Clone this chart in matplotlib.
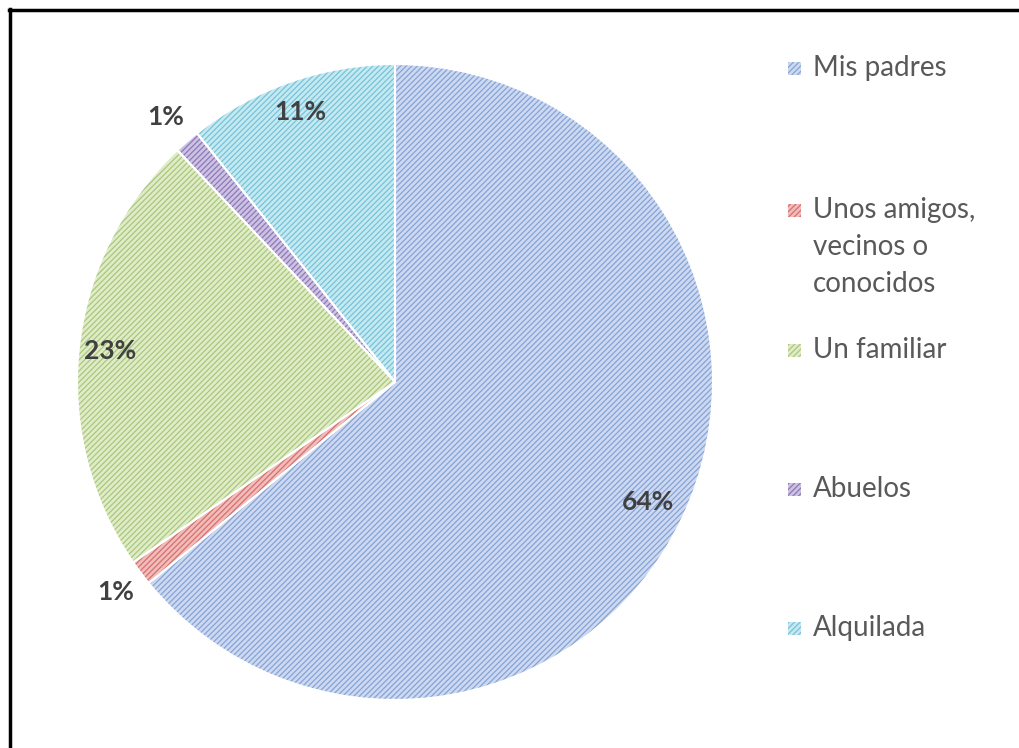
import numpy as np
import matplotlib
matplotlib.use("Agg")
import matplotlib.pyplot as plt
from matplotlib.patches import Rectangle
from matplotlib.lines import Line2D

# data
labels = ["Mis padres", "Unos amigos,\nvecinos o\nconocidos", "Un familiar", "Abuelos", "Alquilada"]
values = [64.1, 1.3, 22.6, 1.3, 10.7]
pct_text = ["64%", "1%", "23%", "1%", "11%"]

faces = ["#cdd9f0", "#f0bdbb", "#e0ebc8", "#cdc2e2", "#c6e9f1"]
hatches = ["#86a3d6", "#d6706e", "#a9c87c", "#8c78ba", "#74c4d9"]
label_r = [0.88, 1.1, 0.9, 1.1, 0.9]

plt.rcParams["font.family"] = ["Lato", "DejaVu Sans"]
plt.rcParams["hatch.linewidth"] = 0.9

W, H = 1020, 748
fig = plt.figure(figsize=(W / 100, H / 100), dpi=100)

cx, cy, R = 395, 382, 318
ax = fig.add_axes([(cx - R) / W, (H - cy - R) / H, 2 * R / W, 2 * R / H])

wedges, _ = ax.pie(values, startangle=90, counterclock=False, radius=1,
                   colors=faces, wedgeprops=dict(linewidth=0))
for w, hc in zip(wedges, hatches):
    w.set_edgecolor(hc)
    w.set_hatch("//////")
    w.set_linewidth(0)

# white separators on top
ax.pie(values, startangle=90, counterclock=False, radius=1,
       wedgeprops=dict(fill=False, edgecolor="white", linewidth=1.5))

for w, txt, r in zip(wedges, pct_text, label_r):
    mid = np.deg2rad((w.theta1 + w.theta2) / 2)
    ax.text(r * np.cos(mid), r * np.sin(mid), txt, ha="center", va="center",
            fontsize=19, fontweight="bold", color="#404040")

ax.set_xlim(-1, 1)
ax.set_ylim(-1, 1)
ax.set_aspect("equal")
ax.axis("off")

# legend, placed by hand like the Excel one
leg_y = [68, 210, 350, 489, 628]
line_gap = 37
for lab, fc, hc, y in zip(labels, faces, hatches, leg_y):
    s = 13
    rect = Rectangle(((788) / W, (H - y - s / 2) / H), s / W, s / H,
                     transform=fig.transFigure, facecolor=fc, edgecolor=hc,
                     hatch="//////", linewidth=0)
    fig.patches.append(rect)
    for i, line in enumerate(lab.split("\n")):
        fig.text(813 / W, (H - y - i * line_gap) / H, line, ha="left", va="center",
                 fontsize=20, color="#595959")

# outer frame (only top and left edges visible)
fig.lines.append(Line2D([9 / W, 1], [1 - 10 / H, 1 - 10 / H], transform=fig.transFigure,
                        color="black", linewidth=2.5))
fig.lines.append(Line2D([10 / W, 10 / W], [0, 1 - 9 / H], transform=fig.transFigure,
                        color="black", linewidth=2.5))

fig.savefig("out.png", dpi=100)
